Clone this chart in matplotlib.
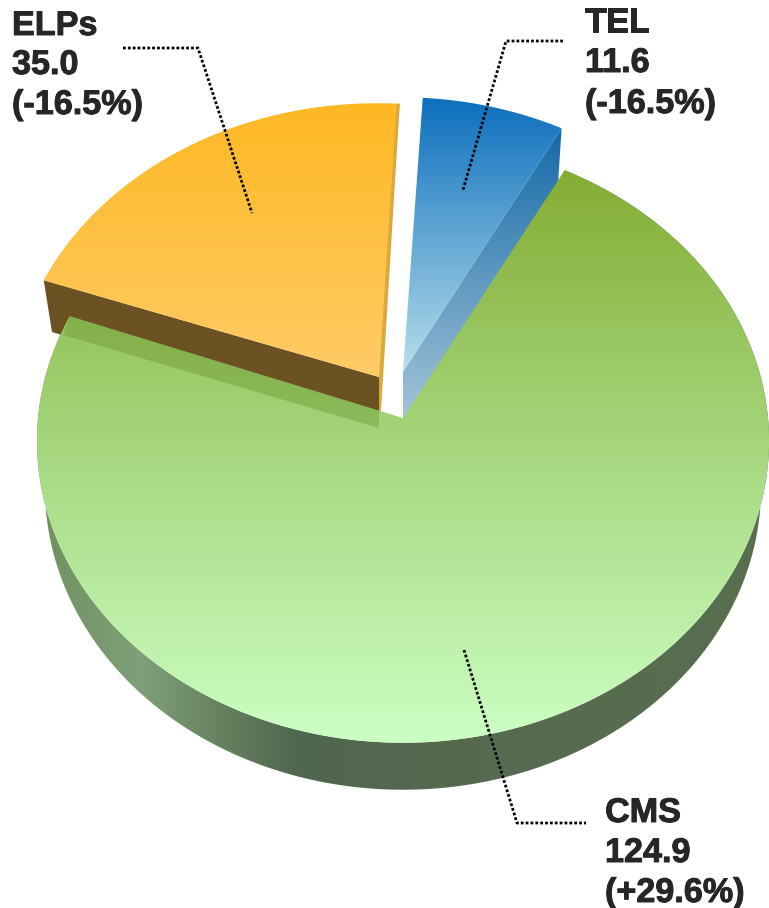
import numpy as np
import matplotlib
matplotlib.use('Agg')
from matplotlib import pyplot as plt
from matplotlib import patheffects
from matplotlib.colors import to_rgb
from matplotlib.patches import Polygon

names = ['CMS', 'ELPs', 'TEL']
values = [124.9, 35.0, 11.6]
changes = ['(+29.6%)', '(-16.5%)', '(-16.5%)']

plt.rcParams['font.family'] = ['Liberation Sans', 'DejaVu Sans']

# pie geometry in pixels, slight perspective on the disc
CX, CY = 403, 418
A, B, K = 365, 300, 0.0762
START = 28.2  # first slice starts here, clockwise from the top


def rim(a1, a2, n=200):
    t = np.radians(np.linspace(a1, a2, n))
    X, Y = np.sin(t), np.cos(t)
    s = 1 / (1 + K * Y)
    return np.column_stack([CX + A * X * s, CY - B * Y * s])


def lower(p, depth=47):
    # bottom face of the pie, drawn a bit inward
    p = np.atleast_2d(p).astype(float)
    return np.column_stack([p[:, 0] + (CX - p[:, 0]) * 0.022, p[:, 1] + depth])


def grad_fill(ax, pts, stops, direction=(0, 1), zorder=2):
    # linear gradient through imshow, clipped to the polygon
    x0, y0 = pts.min(axis=0)
    x1, y1 = pts.max(axis=0)
    xx, yy = np.meshgrid(np.arange(x0, x1 + 1), np.arange(y0, y1 + 1))
    d = xx * direction[0] + yy * direction[1]
    pos = [s[0] for s in stops]
    rgb = np.array([to_rgb(s[1]) for s in stops])
    img = np.dstack([np.interp(d, pos, rgb[:, i]) for i in range(3)])
    im = ax.imshow(img, extent=(x0, x1 + 1, y1 + 1, y0), aspect='auto', zorder=zorder,
                   interpolation='bilinear')
    patch = Polygon(pts, closed=True, transform=ax.transData, fc='none', ec='none')
    ax.add_patch(patch)
    im.set_clip_path(patch)


fig = plt.figure(figsize=(7.69, 9.08), dpi=100)
ax = fig.add_axes([0, 0, 1, 1])

# slice angles come from the values
sweep = 360 * np.array(values) / sum(values)
a_cms = (START, START + sweep[0])
a_elp = (a_cms[1], a_cms[1] + sweep[1])
a_tel = (a_elp[1], a_elp[1] + sweep[2])

# CMS
r = rim(*a_cms, n=500)
wall = np.vstack([r, lower(r)[::-1]])
grad_fill(ax, wall, [(36, '#6f9160'), (140, '#7f9f79'), (220, '#66815f'), (303, '#4f6650'),
                     (420, '#56694f'), (769, '#586f4f')], direction=(1, 0), zorder=2)
top = np.vstack([[CX, CY], r])
grad_fill(ax, top, [(170, '#84ad33'), (450, '#a6d77f'), (743, '#ccffc4')], zorder=3)

# shadow of the ELPs slice on CMS, starts right on the slice edge
shadow = Polygon(np.vstack([r[-1], [379, 410.6], [379, 428], [63, 335]]), closed=True,
                 fc='#6f9a35', ec='none', alpha=0.45, zorder=4)
ax.add_patch(shadow)

# ELPs, the front wall goes under the CMS top
off = np.array([-26, -36])
r = rim(*a_elp) + off
apex = np.array([379, 377])
apex_low = apex + [0, 35]
ax.add_patch(Polygon(np.vstack([r[0], [52, 332], [379, 432], apex]), closed=True,
                     fc='#6c5122', ec='none', zorder=2.5))
grad_fill(ax, np.vstack([apex, r]), [(103, '#fdb823'), (377, '#ffcb66')], zorder=6)
ax.add_patch(Polygon(np.vstack([r[-1] - [3, 0], r[-1], apex_low + [2, -1], apex_low, apex]), closed=True,
                     fc='#d9a93e', ec='none', zorder=7))

# TEL, its wall also goes under the CMS top
off = np.array([-3, -42])
r = rim(*a_tel) + off
apex = np.array([CX, CY - 46])
side = np.vstack([apex, r[-1], r[-1] + [-4, 62], [415, 420], [CX, CY]])
grad_fill(ax, side, [(130, '#156aa8'), (418, '#a4c4d8')], zorder=2.5)
grad_fill(ax, np.vstack([apex, r]), [(101, '#0e70be'), (372, '#b6deea')], zorder=6)

# leader lines
leaders = [
    ([464, 517, 586], [650, 823, 823]),
    ([123, 198, 252], [48, 48, 213]),
    ([563, 506, 463], [41, 41, 190]),
]
for lx, ly in leaders:
    ax.plot(lx, ly, color='black', lw=2, linestyle=(0, (1, 0.75)), zorder=8)

# labels, one text per line
label_x = [605, 12, 585]
label_y = [[822, 862, 902], [35, 74, 114], [32, 72, 113]]
heavier = [patheffects.withStroke(linewidth=0.7, foreground='#262626')]
for i in range(3):
    lines = [names[i], '%.1f' % values[i], changes[i]]
    for line, y in zip(lines, label_y[i]):
        ax.text(label_x[i], y, line, fontsize=24.6, fontweight='bold', color='#262626',
                va='baseline', ha='left', zorder=9, path_effects=heavier)

ax.set_xlim(0, 769)
ax.set_ylim(908, 0)
ax.axis('off')
fig.savefig('out.png', dpi=100)
